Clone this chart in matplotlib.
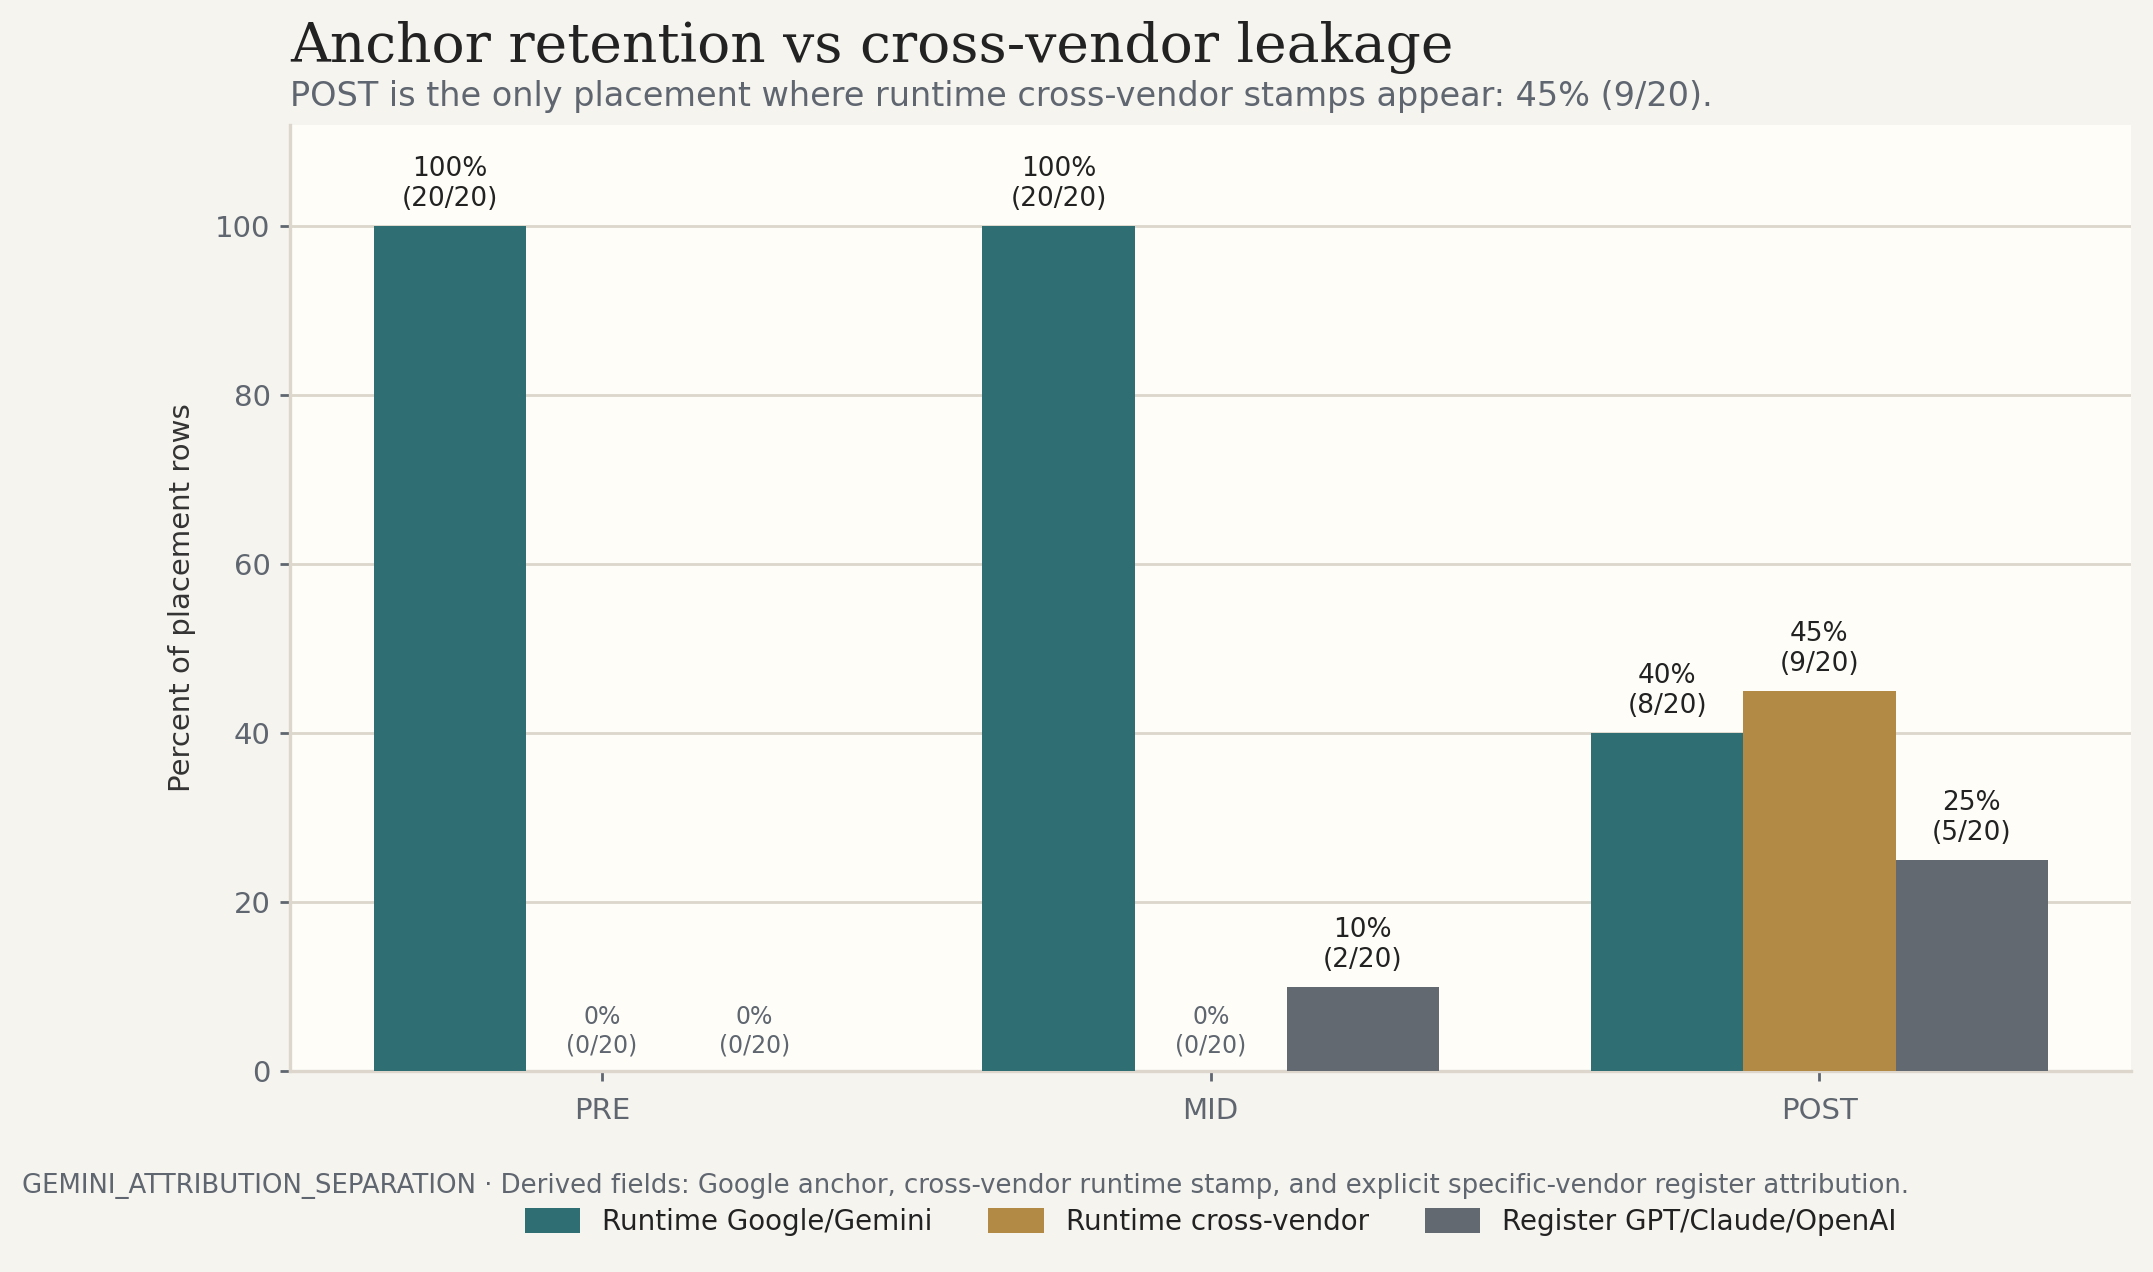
import matplotlib
matplotlib.use("Agg")
import matplotlib.pyplot as plt
import numpy as np

placements = ["PRE", "MID", "POST"]
series = ["Runtime Google/Gemini", "Runtime cross-vendor", "Register GPT/Claude/OpenAI"]
counts = {
    "Runtime Google/Gemini": [20, 20, 8],
    "Runtime cross-vendor": [0, 0, 9],
    "Register GPT/Claude/OpenAI": [0, 2, 5],
}
total = 20
colors = ["#2f6e73", "#b38a45", "#626970"]

BG = "#f6f4ef"
AX_BG = "#fefdf8"
GRID = "#dcd6cc"
MUTED = "#5f6670"
INK = "#222222"

fig = plt.figure(figsize=(10.765, 6.36), dpi=200, facecolor=BG)
ax = fig.add_axes([0.1347, 0.158, 0.8553, 0.744])
ax.set_facecolor(AX_BG)

x = np.arange(len(placements))
w = 0.25
for k, (name, col) in enumerate(zip(series, colors)):
    vals = [100.0 * c / total for c in counts[name]]
    pos = x + (k - 1) * w
    ax.bar(pos, vals, width=w, color=col, label=name, zorder=3)
    for xp, v, c in zip(pos, vals, counts[name]):
        zero = c == 0
        ax.annotate(f"{v:.0f}%\n({c}/{total})", (xp, v), xytext=(0, 5),
                    textcoords="offset points", ha="center", va="bottom",
                    fontsize=8.5 if zero else 9.5,
                    color=MUTED if zero else INK, linespacing=1.2, zorder=4)

ax.set_ylim(0, 112)
ax.set_xticks(x)
ax.set_xticklabels(placements)
ax.set_ylabel("Percent of placement rows", fontsize=10.5, color="#333333", labelpad=7)
ax.yaxis.grid(True, color=GRID, linewidth=1.0, zorder=0)
ax.set_axisbelow(True)
for s in ("top", "right"):
    ax.spines[s].set_visible(False)
for s in ("left", "bottom"):
    ax.spines[s].set_color(GRID)
    ax.spines[s].set_linewidth(1.2)
ax.tick_params(axis="both", colors=MUTED, labelsize=10.5, length=3.5, width=1.0)
ax.tick_params(axis="x", pad=6)

fig.text(0.1347, 0.951, "Anchor retention vs cross-vendor leakage",
         family="DejaVu Serif", fontsize=19.8, color=INK, ha="left", va="baseline")
fig.text(0.1347, 0.917, "POST is the only placement where runtime cross-vendor stamps appear: 45% (9/20).",
         fontsize=12.07, color=MUTED, ha="left", va="baseline")
fig.text(0.0102, 0.062, "GEMINI_ATTRIBUTION_SEPARATION \u00b7 Derived fields: Google anchor, "
         "cross-vendor runtime stamp, and explicit specific-vendor register attribution.",
         fontsize=9.35, color=MUTED, ha="left", va="baseline")

ax.legend(loc="center", bbox_to_anchor=(0.5, -0.16), ncol=3, frameon=False,
          fontsize=10, handlelength=2.0, handleheight=1.0, columnspacing=2.0,
          labelcolor=INK)

fig.savefig("out.png", dpi=200, facecolor=BG)
